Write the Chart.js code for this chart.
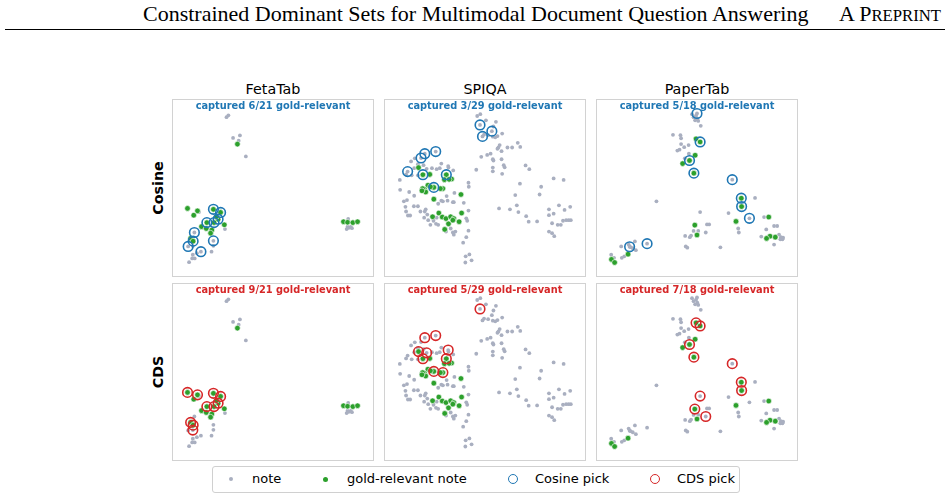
<!DOCTYPE html>
<html><head><meta charset="utf-8">
<script src="https://cdn.jsdelivr.net/npm/chart.js@4.4.1/dist/chart.umd.min.js"></script>
<style>
html,body{margin:0;padding:0;background:#fff;}
body{width:948px;height:497px;overflow:hidden;position:relative;font-family:'DejaVu Sans',sans-serif;color:#000;}
.abs{position:absolute;white-space:nowrap;}
.hdr{font-family:'Liberation Serif','Times New Roman',serif;font-size:22px;line-height:24px;top:2px;}
.rule{position:absolute;left:5px;width:940px;top:29px;height:0;border-top:1px solid #000;}
.panel{position:absolute;width:200px;height:176px;border:1px solid #d2d2d2;}
.panel canvas{display:block;}
.ann{position:absolute;width:202px;text-align:center;font-weight:bold;font-size:9.8px;line-height:12px;white-space:nowrap;}
.col{position:absolute;width:202px;text-align:center;font-size:14.3px;line-height:16px;top:81px;}
.rowlab{position:absolute;font-weight:bold;font-size:14.3px;line-height:16px;transform:translate(-50%,-50%) rotate(-90deg);white-space:nowrap;}
.leg{position:absolute;left:212px;top:466px;width:526px;height:25px;border:1px solid #d0d0d0;border-radius:3px;}
.lt{position:absolute;font-size:13px;line-height:16px;top:471px;white-space:nowrap;}
.mk{position:absolute;border-radius:50%;box-sizing:border-box;}
</style>
</head><body>
<div class="abs hdr" style="left:143px;">Constrained Dominant Sets for Multimodal Document Question Answering</div>
<div class="abs hdr" style="right:7px;">A P<span style="font-size:16.7px;">REPRINT</span></div>
<div class="rule"></div>
<div id="root"></div>
<div class="leg"></div>
<div class="mk" style="left:228.5px;top:477px;width:4px;height:4px;background:#a9afc0;"></div>
<div class="lt" style="left:252px;">note</div>
<div class="mk" style="left:323px;top:476.5px;width:5px;height:5px;background:#2ca02c;"></div>
<div class="lt" style="left:347px;">gold-relevant note</div>
<div class="mk" style="left:508px;top:474px;width:10px;height:10px;border:1.5px solid #1f77b4;"></div>
<div class="lt" style="left:535px;">Cosine pick</div>
<div class="mk" style="left:649.5px;top:474px;width:10px;height:10px;border:1.5px solid #d62728;"></div>
<div class="lt" style="left:677px;">CDS pick</div>
<script>
// ---------- data (2-D embedding coordinates) ----------
const datasetNames = ['FetaTab', 'SPIQA', 'PaperTab'];
const methodNames = ['Cosine', 'CDS'];
const cosineCaptured = ['captured 6/21 gold-relevant', 'captured 3/29 gold-relevant', 'captured 5/18 gold-relevant'];
const cdsCaptured = ['captured 9/21 gold-relevant', 'captured 5/29 gold-relevant', 'captured 7/18 gold-relevant'];

// FetaTab
const fetaNotes = [[160,493],[166,499],[181,426],[203,434],[199,417],[222,366],
  [72,186],[155,131],[57,120],[37,75],[52,76],[78,58],[65,53],[52,48],[50,36],[58,36],[40,24],[118,93],[118,77],[112,58],
  [550,164],[545,131],[552,135],[558,138],[548,139],[562,134]];
const fetaGold = [[195,406],
  [35,198],[67,190],[55,176],[118,195],[141,185],[133,163],[120,152],[97,152],[128,172],
  [80,139],[95,133],[113,128],[109,118],[153,145],[45,101],[53,92],
  [535,155],[548,153],[565,152],[580,155]];
const fetaCosine = [[118,195],[141,185],[133,163],[120,152],[97,152],[53,92],[57,120],[37,75],[78,58],[118,93]];
const fetaCds = [[35,198],[67,190],[118,195],[141,185],[133,163],[120,152],[97,152],[45,101],[53,92],[52,76]];

// SPIQA
const spiqaNotes = [[290,497],[300,503],[318,483],[350,478],[342,463],[370,440],[340,430],[348,428],[325,435],[312,437],[355,432],[299,468],[337,448],[307,431],
  [358,395],[362,403],[355,391],[387,395],[402,395],[420,410],[428,397],[303,365],[322,371],[333,375],[340,357],[342,353],[368,383],[368,357],[375,338],[378,331],[340,330],[340,318],[370,310],[287,323],[262,281],[263,268],[445,337],[457,325],[427,278],[412,241],[360,198],[395,195],[417,208],[422,186],[447,173],[455,155],[482,156],[490,243],[495,268],
  [535,295],[567,290],[552,208],[520,195],[588,203],[570,193],[535,181],[520,176],[575,160],[565,158],[590,160],[583,160],[530,150],[548,145],[558,145],[520,123],[530,118],[537,108],
  [255,105],[245,87],[262,126],[253,43],[265,49],[252,23],[272,30],[220,123],[212,120],[215,113],[258,158],[262,191],[255,166],[247,216],[215,218],[217,248],[190,123],[205,133],
  [110,361],[122,375],[157,382],[67,317],[78,350],[90,360],[100,341],[118,338],[145,328],[160,325],[170,328],[175,343],[198,330],[213,321],[88,328],[62,308],[80,305],[42,290],[100,305],[140,308],[128,326],[197,335],
  [43,258],[72,251],[88,239],[55,221],[65,225],[60,203],[62,188],[68,175],[75,175],[87,205],[100,205],[108,188],[125,195],[122,188],[130,178],[120,168],[133,160],[150,158],[158,148],[165,145],[140,145],[160,168],[165,213],[175,223],[180,221],[195,223],[212,218],[192,238],[110,258]];
const spiqaGold = [[102,330],[116,307],[138,308],[191,307],[208,293],[185,291],[132,273],[121,260],[125,251],[151,266],[180,262],[115,262],[238,243],[151,228],[240,183],[167,183],[147,171],[178,170],[190,165],[205,171],[215,165],[198,148],[232,155],[186,130],[212,160],[113,255],[200,292],[140,268],[172,262]];
const spiqaCosine = [[299,468],[337,448],[307,431],[110,361],[122,375],[157,382],[67,317],[116,307],[191,307],[151,266]];
const spiqaCds = [[299,468],[122,375],[157,382],[102,330],[128,326],[116,307],[197,335],[191,307],[151,266],[180,262]];

// PaperTab
const paperNotes = [[305,503],[310,493],[318,498],[322,488],[315,483],[325,481],[333,465],[321,505],
  [244,436],[268,435],[270,425],[270,406],[280,396],[294,403],[258,385],[265,388],[295,375],[282,360],[318,371],
  [191,221],[331,186],[422,183],[507,232],[434,291],[489,166],[353,146],[360,146],[349,120],[310,125],[325,125],[283,109],[298,105],[302,110],[285,75],[290,71],[396,72],[453,133],[455,120],
  [536,170],[543,130],[568,141],[578,141],[527,107],[568,81],[584,113],[590,105],[595,98],[588,98],[597,103],
  [78,75],[102,81],[108,73],[115,69],[122,91],[125,63],[80,38],[88,43],[46,48],[55,38],[105,74],[161,84]];
const paperGold = [[318,423],[331,413],[315,370],[297,353],[275,343],[311,312],[463,231],[464,204],[446,156],[314,144],[321,112],[551,170],[555,108],[544,101],[572,105],[100,50],[47,33],[57,23]];
const paperCosine = [[321,505],[331,413],[297,353],[311,312],[434,291],[463,231],[464,204],[489,166],[105,74],[161,84]];
const paperCds = [[318,423],[331,413],[297,353],[311,312],[434,291],[463,231],[464,204],[331,186],[314,144],[349,120]];

// ---------- layout ----------
const colLeft = [172, 384, 596];
const rowTop = [99, 283];
const xRanges = [[9, 609], [15, 615], [21, 621]];
const yRange = [0, 528];
const notesBy = [fetaNotes, spiqaNotes, paperNotes];
const goldBy = [fetaGold, spiqaGold, paperGold];
const picksBy = [[fetaCosine, spiqaCosine, paperCosine], [fetaCds, spiqaCds, paperCds]];
const capturedBy = [cosineCaptured, cdsCaptured];
const pickColors = ['#1f77b4', '#d62728'];

const root = document.getElementById('root');
const toXY = a => a.map(p => ({x: p[0], y: p[1]}));

datasetNames.forEach((name, c) => {
  const t = document.createElement('div');
  t.className = 'col'; t.style.left = colLeft[c] + 'px'; t.textContent = name;
  root.appendChild(t);
});
methodNames.forEach((m, r) => {
  const l = document.createElement('div');
  l.className = 'rowlab'; l.style.left = '158px'; l.style.top = (rowTop[r] + 89) + 'px'; l.textContent = m;
  root.appendChild(l);
});

for (let r = 0; r < 2; r++) {
  for (let c = 0; c < 3; c++) {
    const p = document.createElement('div');
    p.className = 'panel';
    p.style.left = colLeft[c] + 'px'; p.style.top = rowTop[r] + 'px';
    const cv = document.createElement('canvas');
    cv.width = 200; cv.height = 176;
    p.appendChild(cv);
    root.appendChild(p);
    new Chart(cv, {
      type: 'scatter',
      data: { datasets: [
        { label: methodNames[r] + ' pick', data: toXY(picksBy[r][c]), pointRadius: 4.8, pointBorderWidth: 1.6,
          pointBorderColor: pickColors[r], pointBackgroundColor: 'rgba(0,0,0,0)', order: 0 },
        { label: 'gold-relevant note', data: toXY(goldBy[c]), pointRadius: 2.8, pointBorderWidth: 0.6,
          pointBorderColor: '#ffffff', pointBackgroundColor: '#2ca02c', order: 1 },
        { label: 'note', data: toXY(notesBy[c]), pointRadius: 1.9, pointBorderWidth: 0,
          pointBorderColor: '#a9afc0', pointBackgroundColor: '#a9afc0', order: 2 }
      ]},
      options: {
        responsive: false, animation: false, devicePixelRatio: 1, events: [],
        layout: { padding: 0 },
        plugins: { legend: { display: false }, tooltip: { enabled: false } },
        scales: {
          x: { type: 'linear', display: false, min: xRanges[c][0], max: xRanges[c][1] },
          y: { type: 'linear', display: false, min: yRange[0], max: yRange[1] }
        }
      }
    });
    const a = document.createElement('div');
    a.className = 'ann';
    a.style.left = colLeft[c] + 'px'; a.style.top = (rowTop[r] + 1) + 'px';
    a.style.color = pickColors[r];
    a.textContent = capturedBy[r][c];
    root.appendChild(a);
  }
}
</script>
</body></html>
